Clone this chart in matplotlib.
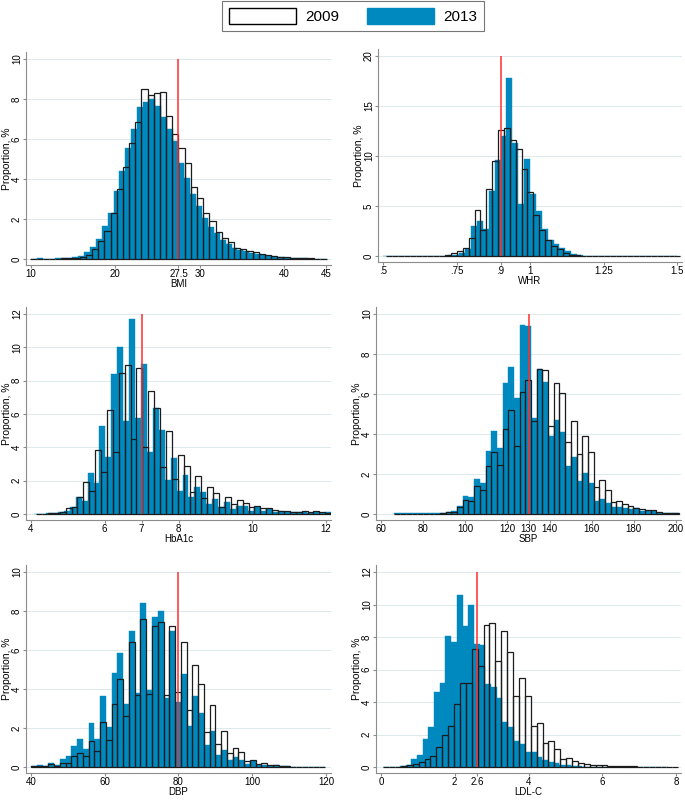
import numpy as np
import matplotlib
matplotlib.use('Agg')
import matplotlib.pyplot as plt
from matplotlib.patches import Patch

plt.rcParams['font.family'] = ['Liberation Sans', 'DejaVu Sans']

BLUE = '#0089bf'
OUTLINE = '#1c1c1c'
AXIS_GREY = '#8c8c8c'
GRID = '#dde9ec'
W, H = 685, 801

# ---- data: bin start / width and bar heights (%) for each year ----
bmi_bins_2013 = (10.0, 0.7)
bmi_2013 = [0.02, 0.03, 0.02, 0.02, 0.03, 0.03, 0.05, 0.08, 0.15, 0.35,
            0.6, 1.0, 1.65, 2.3, 3.4, 4.4, 5.55, 6.5, 7.6, 7.85,
            8.0, 7.65, 7.1, 6.5, 5.9, 4.8, 4.05, 3.25, 2.65, 2.05,
            1.6, 1.3, 0.95, 0.75, 0.55, 0.45, 0.38, 0.3, 0.25, 0.2,
            0.14, 0.1, 0.08, 0.06, 0.05, 0.04, 0.03, 0.02, 0.02, 0.02]
bmi_bins_2009 = (9.93, 0.732)
bmi_2009 = [0.02, 0.02, 0.02, 0.02, 0.02, 0.03, 0.03, 0.05, 0.1, 0.2,
            0.5, 0.9, 1.4, 2.28, 3.5, 4.6, 5.8, 6.85, 8.5, 8.2,
            8.3, 8.35, 7.15, 6.25, 5.55, 4.8, 3.6, 3.03, 2.28, 1.9,
            1.37, 1.07, 0.83, 0.57, 0.5, 0.4, 0.33, 0.27, 0.22, 0.15,
            0.12, 0.08, 0.06, 0.05, 0.04, 0.03, 0.02, 0.02]

whr_bins_2013 = (0.5, 0.02)
whr_2013 = [0.05, 0.03, 0.03, 0.02, 0.02, 0.03, 0.02, 0.02, 0.02, 0.03,
            0.05, 0.1, 0.15, 0.35, 0.7, 3.0, 3.5, 2.7, 6.5, 9.6,
            12.0, 17.8, 11.3, 5.2, 9.7, 6.2, 4.5, 2.7, 1.6, 1.2,
            0.8, 0.5, 0.2, 0.1, 0.05, 0.03, 0.03, 0.03, 0.03, 0.03,
            0.03, 0.03, 0.03, 0.03, 0.03, 0.03, 0.03, 0.03, 0.03, 0.03]
whr_bins_2009 = (0.5113, 0.02)
whr_2009 = [0.03, 0.03, 0.03, 0.03, 0.03, 0.03, 0.03, 0.03, 0.03, 0.05,
            0.15, 0.3, 0.5, 0.8, 1.8, 4.65, 2.6, 6.7, 9.5, 12.6,
            12.8, 11.6, 10.7, 8.7, 6.4, 4.1, 2.6, 1.6, 1.0, 0.7,
            0.35, 0.15, 0.08, 0.04, 0.04, 0.03, 0.03, 0.03, 0.03, 0.03,
            0.03, 0.03, 0.03, 0.03, 0.03, 0.03, 0.03, 0.03, 0.03, 0.03]

hba1c_bins_2013 = (4.085, 0.161)
hba1c_2013 = [0.02, 0.02, 0.05, 0.08, 0.1, 0.2, 0.45, 1.0, 0.8, 2.45,
              1.85, 5.3, 3.45, 8.4, 10.05, 5.6, 11.7, 5.75, 9.0, 3.7,
              6.35, 5.05, 2.05, 3.35, 1.4, 2.35, 1.0, 1.65, 1.3, 0.6,
              0.92, 0.4, 0.7, 0.32, 0.48, 0.5, 0.2, 0.4, 0.2, 0.3,
              0.15, 0.2, 0.12, 0.15, 0.1, 0.12, 0.08, 0.1, 0.08, 0.1]
hba1c_bins_2009 = (4.14, 0.16)
hba1c_2009 = [0.02, 0.02, 0.05, 0.08, 0.12, 0.35, 0.4, 1.0, 1.9, 1.4,
              3.85, 2.55, 6.25, 3.7, 8.45, 8.95, 4.5, 8.75, 4.05, 7.4,
              6.35, 2.8, 5.0, 2.1, 3.55, 2.9, 1.35, 2.3, 0.95, 1.65,
              1.28, 0.45, 1.05, 0.6, 0.85, 0.68, 0.4, 0.48, 0.36, 0.34,
              0.24, 0.2, 0.2, 0.15, 0.1, 0.2, 0.1, 0.18, 0.1, 0.08]

sbp_bins_2013 = (66.4, 2.7)
sbp_2013 = [0.03, 0.03, 0.03, 0.03, 0.03, 0.03, 0.03, 0.03, 0.05, 0.1,
            0.15, 0.38, 0.9, 0.85, 1.75, 1.55, 3.15, 4.15, 3.3, 6.55,
            7.35, 5.8, 9.45, 9.4, 4.8, 7.25, 6.6, 3.9, 4.7, 4.1,
            2.4, 2.85, 1.65, 2.07, 1.53, 0.65, 0.75, 0.57, 0.33, 0.33,
            0.3, 0.23, 0.28, 0.17, 0.17, 0.15, 0.07, 0.04, 0.03, 0.03]
sbp_bins_2009 = (66.4, 2.7)
sbp_2009 = [0.02, 0.02, 0.02, 0.02, 0.02, 0.02, 0.02, 0.02, 0.03, 0.08,
            0.12, 0.35, 0.72, 0.65, 1.42, 1.2, 2.38, 3.1, 2.45, 4.25,
            5.2, 3.4, 6.1, 6.7, 4.65, 7.25, 7.2, 4.4, 6.55, 6.05,
            3.6, 4.65, 2.98, 3.9, 3.1, 1.37, 1.68, 1.2, 0.62, 0.65,
            0.5, 0.38, 0.32, 0.25, 0.2, 0.22, 0.12, 0.05, 0.04, 0.03]

dbp_bins_2013 = (40.0, 1.5625)
dbp_2013 = [0.05, 0.1, 0.05, 0.2, 0.1, 0.4, 0.55, 1.1, 1.45, 0.9,
            2.25, 1.45, 3.65, 2.05, 4.8, 5.85, 3.25, 6.95, 3.8, 8.4,
            3.95, 7.7, 8.0, 3.55, 6.95, 3.35, 4.75, 2.1, 3.65, 2.75,
            1.15, 1.85, 0.6, 0.88, 0.35, 0.5, 0.38, 0.15, 0.3, 0.1,
            0.12, 0.05, 0.08, 0.03, 0.03, 0.02, 0.02, 0.02, 0.02, 0.02, 0.02]
dbp_bins_2009 = (40.0, 1.5625)
dbp_2009 = [0.03, 0.05, 0.05, 0.15, 0.05, 0.2, 0.2, 0.55, 0.7, 0.55,
            1.35, 0.8, 2.3, 1.37, 3.25, 4.5, 2.6, 6.4, 3.7, 7.6,
            3.75, 7.25, 7.45, 3.7, 7.25, 3.85, 6.4, 2.9, 5.25, 4.25,
            1.8, 3.2, 1.18, 1.85, 0.73, 1.0, 0.78, 0.3, 0.38, 0.15,
            0.2, 0.08, 0.12, 0.05, 0.04, 0.02, 0.02, 0.02, 0.02, 0.02, 0.02]

ldl_bins_2013 = (0.048, 0.1545)
ldl_2013 = [0.02, 0.02, 0.02, 0.05, 0.15, 0.5, 0.75, 1.7, 2.45, 4.6,
            5.2, 8.05, 7.7, 10.6, 8.7, 10.0, 7.55, 7.5, 5.1, 4.9,
            4.25, 2.75, 2.45, 1.6, 1.4, 0.9, 0.9, 0.6, 0.45, 0.3,
            0.25, 0.15, 0.1, 0.08, 0.05, 0.03, 0.03, 0.03, 0.03, 0.03,
            0.02, 0.02, 0.02, 0.02, 0.02, 0.02, 0.02, 0.02, 0.02, 0.02]
ldl_bins_2009 = (0.06, 0.16)
ldl_2009 = [0.02, 0.02, 0.03, 0.05, 0.1, 0.2, 0.3, 0.5, 0.7, 1.25,
            1.95, 2.5, 3.85, 5.2, 5.15, 7.25, 6.2, 8.75, 8.85, 6.55,
            8.35, 7.1, 4.35, 5.45, 4.35, 2.5, 2.7, 1.45, 1.6, 1.1,
            0.5, 0.55, 0.35, 0.22, 0.2, 0.15, 0.12, 0.1, 0.07, 0.06,
            0.05, 0.04, 0.04, 0.03, 0.03, 0.03, 0.03, 0.03, 0.02, 0.02]

# reference (cut-off) values, drawn as red lines
cutoffs = {'BMI': 27.5, 'WHR': 0.9, 'HbA1c': 7, 'SBP': 130, 'DBP': 80, 'LDL-C': 2.6}

bmi_xticks = [10, 20, 27.5, 30, 40, 45]
bmi_xlabels = ['10', '20', '27.5', '30', '40', '45']
whr_xticks = [0.5, 0.75, 0.9, 1, 1.25, 1.5]
whr_xlabels = ['.5', '.75', '.9', '1', '1.25', '1.5']
hba1c_xticks = [4, 6, 7, 8, 10, 12]
hba1c_xlabels = ['4', '6', '7', '8', '10', '12']
sbp_xticks = [60, 80, 100, 120, 130, 140, 160, 180, 200]
sbp_xlabels = ['60', '80', '100', '120', '130', '140', '160', '180', '200']
dbp_xticks = [40, 60, 80, 100, 120]
dbp_xlabels = ['40', '60', '80', '100', '120']
ldl_xticks = [0, 2, 2.6, 4, 6, 8]
ldl_xlabels = ['0', '2', '2.6', '4', '6', '8']

panels = [
    # name, 2009 bins/heights, 2013 bins/heights, xticks, xlabels, yticks,
    # pixel anchors (first x tick, last x tick, top y tick, zero)
    ('BMI', bmi_bins_2009, bmi_2009, bmi_bins_2013, bmi_2013,
     bmi_xticks, bmi_xlabels, [0, 2, 4, 6, 8, 10], (31, 326, 59, 259)),
    ('WHR', whr_bins_2009, whr_2009, whr_bins_2013, whr_2013,
     whr_xticks, whr_xlabels, [0, 5, 10, 15, 20], (383, 677, 56, 256)),
    ('HbA1c', hba1c_bins_2009, hba1c_2009, hba1c_bins_2013, hba1c_2013,
     hba1c_xticks, hba1c_xlabels, [0, 2, 4, 6, 8, 10, 12], (31, 326, 314, 514)),
    ('SBP', sbp_bins_2009, sbp_2009, sbp_bins_2013, sbp_2013,
     sbp_xticks, sbp_xlabels, [0, 2, 4, 6, 8, 10], (381, 676, 314, 514)),
    ('DBP', dbp_bins_2009, dbp_2009, dbp_bins_2013, dbp_2013,
     dbp_xticks, dbp_xlabels, [0, 2, 4, 6, 8, 10], (31, 326, 572, 767)),
    ('LDL-C', ldl_bins_2009, ldl_2009, ldl_bins_2013, ldl_2013,
     ldl_xticks, ldl_xlabels, [0, 2, 4, 6, 8, 10, 12], (381, 676, 572, 767)),
]

fig = plt.figure(figsize=(W / 100, H / 100), dpi=100)


def make_axes(px, xmin, xmax, ymax):
    x0, x1, yt, yb = px
    sx = (x1 - x0) / (xmax - xmin)
    sy = (yb - yt) / ymax
    left, right, top, bottom = x0 - 5, x1 + 5, yt - 7, yb + 6
    ax = fig.add_axes([left / W, 1 - bottom / H, (right - left) / W, (bottom - top) / H])
    ax.set_xlim(xmin - 5 / sx, xmax + 5 / sx)
    ax.set_ylim(-6 / sy, ymax + 7 / sy)
    return ax


def bars(ax, bins, heights, **kw):
    start, width = bins
    edges = start + width * np.arange(len(heights))
    ax.bar(edges, heights, width=width, align='edge', **kw)


for name, b09, h09, b13, h13, xt, xl, yt, px in panels:
    ax = make_axes(px, xt[0], xt[-1], yt[-1])
    ax.set_axisbelow(True)
    ax.yaxis.grid(True, color=GRID, linewidth=0.7)
    bars(ax, b13, h13, color=BLUE, edgecolor=BLUE, linewidth=0.3)
    bars(ax, b09, h09, fill=False, edgecolor=OUTLINE, linewidth=0.9)
    ax.vlines(cutoffs[name], 0, yt[-1], color='#ff2d2d', linewidth=1.1, zorder=5)

    ax.set_xticks(xt)
    ax.set_xticklabels(xl)
    ax.set_yticks(yt)
    ax.set_yticklabels([str(v) for v in yt], rotation=90, va='center')
    ax.tick_params(length=2, width=0.8, color=AXIS_GREY, labelsize=7, pad=1)
    for side in ('top', 'right'):
        ax.spines[side].set_visible(False)
    for side in ('left', 'bottom'):
        ax.spines[side].set_color(AXIS_GREY)
        ax.spines[side].set_linewidth(0.8)
    ax.set_xlabel(name, fontsize=7, labelpad=0)
    ax.set_ylabel('Proportion, %', fontsize=7.5, labelpad=0)

handles = [Patch(facecolor='white', edgecolor='black', linewidth=1.0),
           Patch(facecolor=BLUE, edgecolor=BLUE)]
leg = fig.legend(handles, ['2009', '2013'], loc='upper center',
                 bbox_to_anchor=(353 / W, 1 - 1 / H), ncol=2, frameon=True,
                 fancybox=False, edgecolor='#555555', fontsize=11,
                 handlelength=4.4, handleheight=1.2, handletextpad=0.6,
                 columnspacing=1.8, borderpad=0.45, borderaxespad=0)
leg.get_frame().set_linewidth(0.8)

fig.savefig('out.png', dpi=100)
